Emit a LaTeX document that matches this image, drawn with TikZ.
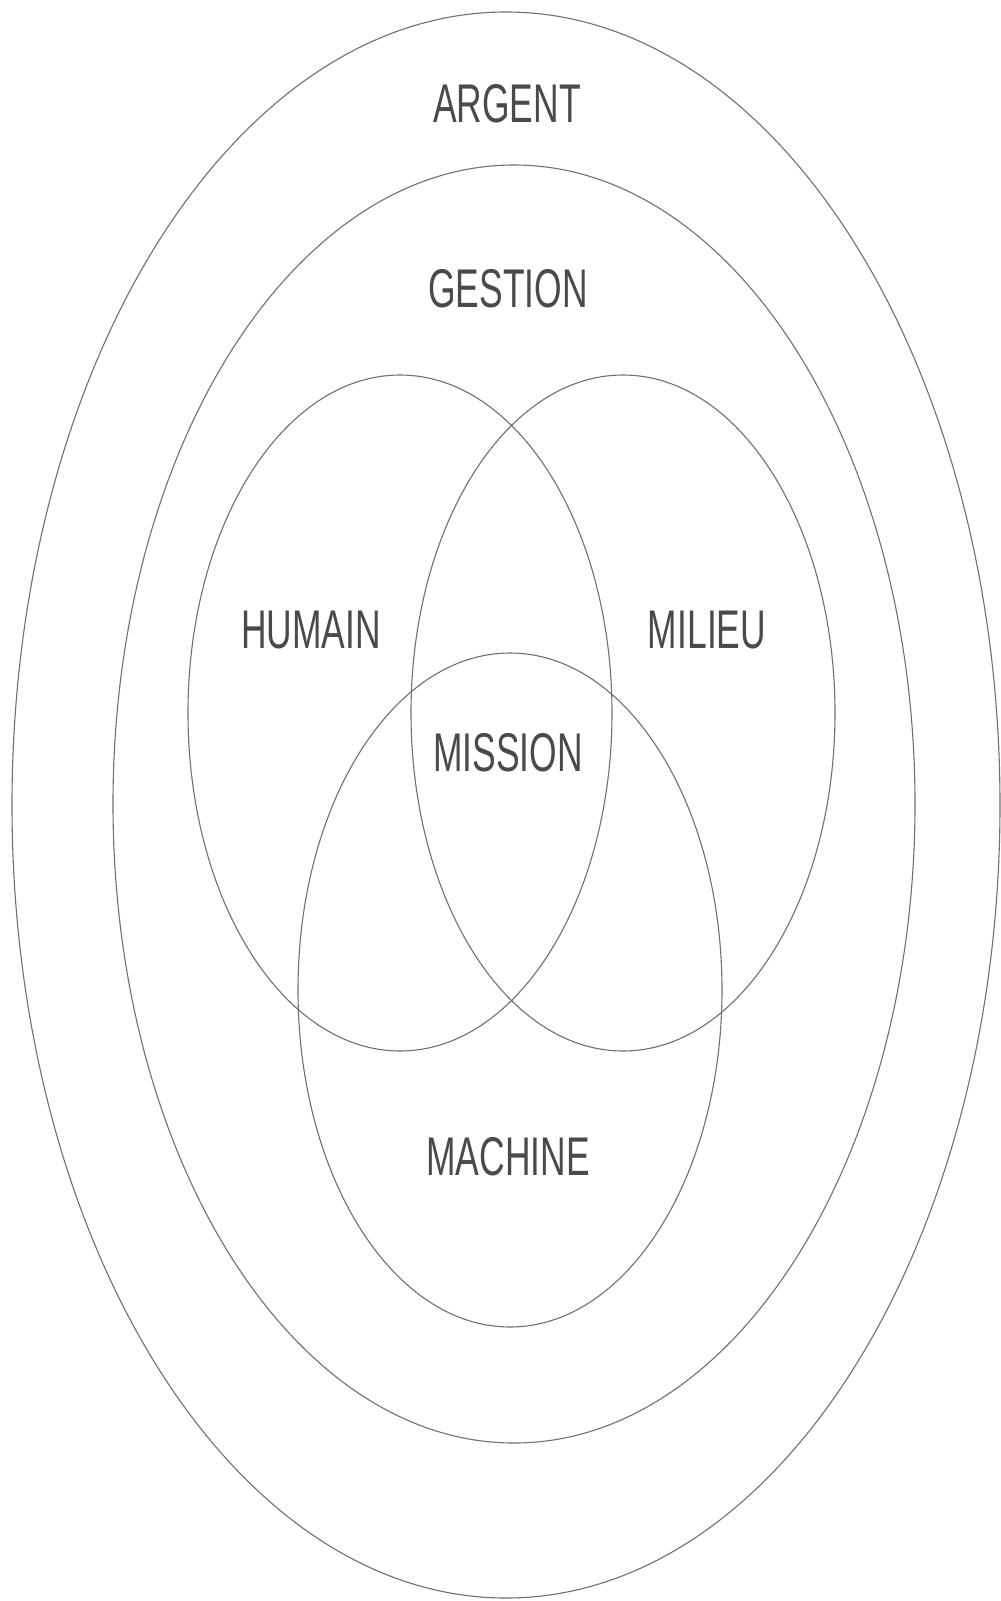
\documentclass[tikz,border=0pt]{standalone}
\usepackage{fontspec}
\usepackage{graphicx}
\setmainfont{Liberation Sans}
\definecolor{linegray}{HTML}{707070}
\definecolor{textgray}{HTML}{4A4A4A}
\tikzset{
  ring/.style={draw=linegray, line width=1.1pt},
  lbl/.style={inner sep=0pt, text=textgray, font=\fontsize{54.5}{60}\selectfont},
}
\newcommand{\cond}[1]{\scalebox{0.65}[1]{#1}}
\begin{document}
\begin{tikzpicture}[x=1pt, y=-1pt]
\useasboundingbox[fill=white] (0,0) rectangle (1001,1601);
% outer rings
\draw[ring] (506,805) ellipse [x radius=494pt, y radius=793pt];
\draw[ring] (514,804) ellipse [x radius=401pt, y radius=639pt];
% venn
\draw[ring] (400,713) ellipse [x radius=212pt, y radius=338pt];
\draw[ring] (623,713) ellipse [x radius=212pt, y radius=338pt];
\draw[ring] (510,990) ellipse [x radius=212pt, y radius=337pt];
% labels
\node[lbl] (argent)  at (507,104)  {\cond{ARGENT}};
\node[lbl] (gestion) at (508,289)  {\cond{GESTION}};
\node[lbl] (humain)  at (311,630)  {\cond{HUMAIN}};
\node[lbl] (milieu)  at (707,630)  {\cond{MILIEU}};
\node[lbl] (mission) at (508,753)  {\cond{MISSION}};
\node[lbl] (machine) at (508,1157) {\cond{MACHINE}};
\end{tikzpicture}
\end{document}
